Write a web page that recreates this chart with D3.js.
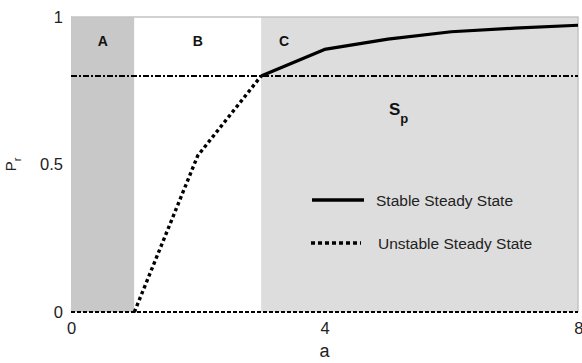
<!DOCTYPE html>
<html>
<head>
<meta charset="utf-8">
<script src="https://cdn.jsdelivr.net/npm/d3@7"></script>
<style>
  html, body { margin: 0; padding: 0; background: #fff; }
  svg { display: block; font-family: "Liberation Sans", Arial, Helvetica, sans-serif; }
</style>
</head>
<body>
<svg id="chart" width="582" height="363"></svg>
<script>
// Region boundaries along a
const regions = [
  { name: "A", from: 0, to: 1, fill: "#c8c8c8" },
  { name: "B", from: 1, to: 3, fill: "#ffffff" },
  { name: "C", from: 3, to: 8, fill: "#dddddd" }
];
// Stable branch (solid) and unstable branch (dotted)
const stableA = [3, 4, 5, 6, 7, 8];
const stableP = [0.8, 0.89, 0.925, 0.95, 0.962, 0.972];
const unstableA = [1, 2, 3];
const unstableP = [0, 0.53, 0.8];
// Threshold S_p
const spLevel = 0.8;
const xTicks = [0, 4, 8];
const yTicks = [0, 0.5, 1];

const svg = d3.select("#chart");
const m = { left: 71, right: 4, top: 17, bottom: 51 };
const W = 582, H = 363;
const x = d3.scaleLinear().domain([0, 8]).range([m.left, W - m.right]);
const y = d3.scaleLinear().domain([0, 1]).range([H - m.bottom, m.top]);

// shaded regions
svg.selectAll("rect.region").data(regions).join("rect")
  .attr("class", "region")
  .attr("x", d => x(d.from)).attr("width", d => x(d.to) - x(d.from))
  .attr("y", y(1)).attr("height", y(0) - y(1))
  .attr("fill", d => d.fill);

// light frame on top and right
svg.append("path")
  .attr("d", `M${x(0)},${y(1)}H${x(8)}V${y(0)}`)
  .attr("fill", "none").attr("stroke", "#c4c4c4").attr("stroke-width", 1.5);

// region letters
svg.selectAll("text.region").data(regions).join("text")
  .attr("class", "region")
  .attr("x", d => d.name === "C" ? x(d.from) + 23 : (x(d.from) + x(d.to)) / 2)
  .attr("y", 46)
  .attr("text-anchor", "middle")
  .attr("font-weight", "bold").attr("font-size", 14).attr("fill", "#111")
  .text(d => d.name);

// zero baseline (dashed)
svg.append("line")
  .attr("x1", x(0)).attr("x2", x(8)).attr("y1", y(0)).attr("y2", y(0))
  .attr("stroke", "#000").attr("stroke-width", 2).attr("stroke-dasharray", "4,2");

// S_p dash-dot line
svg.append("line")
  .attr("x1", x(0)).attr("x2", x(8)).attr("y1", y(spLevel)).attr("y2", y(spLevel))
  .attr("stroke", "#000").attr("stroke-width", 2).attr("stroke-dasharray", "6,2,2,2");

const line = d3.line().x(d => x(d[0])).y(d => y(d[1]));

// unstable branch
svg.append("path")
  .datum(d3.zip(unstableA, unstableP))
  .attr("d", line)
  .attr("fill", "none").attr("stroke", "#000").attr("stroke-width", 3.4)
  .attr("stroke-dasharray", "3.4,3");

// stable branch
svg.append("path")
  .datum(d3.zip(stableA, stableP))
  .attr("d", line)
  .attr("fill", "none").attr("stroke", "#000").attr("stroke-width", 3.2)
  .attr("stroke-linejoin", "round");

// S_p label
const sp = svg.append("text").attr("x", 389).attr("y", 115)
  .attr("font-weight", "bold").attr("font-size", 17).attr("fill", "#111");
sp.append("tspan").text("S");
sp.append("tspan").attr("dy", 8).attr("font-size", 13).text("p");

// legend
const legend = [
  { label: "Stable Steady State", dash: null, y: 200, x1: 312, x2: 364, tx: 376, w: 3.6 },
  { label: "Unstable Steady State", dash: "4,3", y: 243, x1: 311, x2: 361, tx: 378, w: 3.4 }
];
const lg = svg.selectAll("g.legend").data(legend).join("g").attr("class", "legend");
lg.append("line")
  .attr("x1", d => d.x1).attr("x2", d => d.x2).attr("y1", d => d.y).attr("y2", d => d.y)
  .attr("stroke", "#000").attr("stroke-width", d => d.w)
  .attr("stroke-dasharray", d => d.dash);
lg.append("text")
  .attr("x", d => d.tx).attr("y", d => d.y + 5.5)
  .attr("font-size", 15.5).attr("fill", "#222")
  .text(d => d.label);

// axes
const xAxis = d3.axisBottom(x).tickValues(xTicks).tickSize(0).tickPadding(10).tickFormat(d3.format("d"));
const gx = svg.append("g").attr("transform", `translate(0,${y(0)})`).call(xAxis);
gx.select(".domain").remove();
gx.selectAll("text").attr("font-size", 16.5).attr("fill", "#222")
  .attr("font-family", "'Liberation Sans', Arial, sans-serif")
  .attr("text-anchor", d => d === 8 ? "end" : "middle")
  .attr("x", d => d === 8 ? 5 : 0);

const yAxis = d3.axisLeft(y).tickValues(yTicks).tickSize(0).tickPadding(8).tickFormat(d => d === 0.5 ? "0.5" : d3.format("d")(d));
const gy = svg.append("g").attr("transform", `translate(${x(0)},0)`).call(yAxis);
gy.select(".domain").remove();
gy.selectAll("text").attr("font-size", 16.5).attr("fill", "#222")
  .attr("font-family", "'Liberation Sans', Arial, sans-serif");

// axis titles
svg.append("text").attr("x", x(4)).attr("y", 357)
  .attr("text-anchor", "middle").attr("font-size", 18).attr("fill", "#222").text("a");
const yt = svg.append("text")
  .attr("transform", `translate(16,${y(0.5)}) rotate(-90)`)
  .attr("text-anchor", "middle").attr("font-size", 15).attr("fill", "#222");
yt.append("tspan").text("P");
yt.append("tspan").attr("dy", 5).attr("font-size", 11).text("r");
</script>
</body>
</html>
